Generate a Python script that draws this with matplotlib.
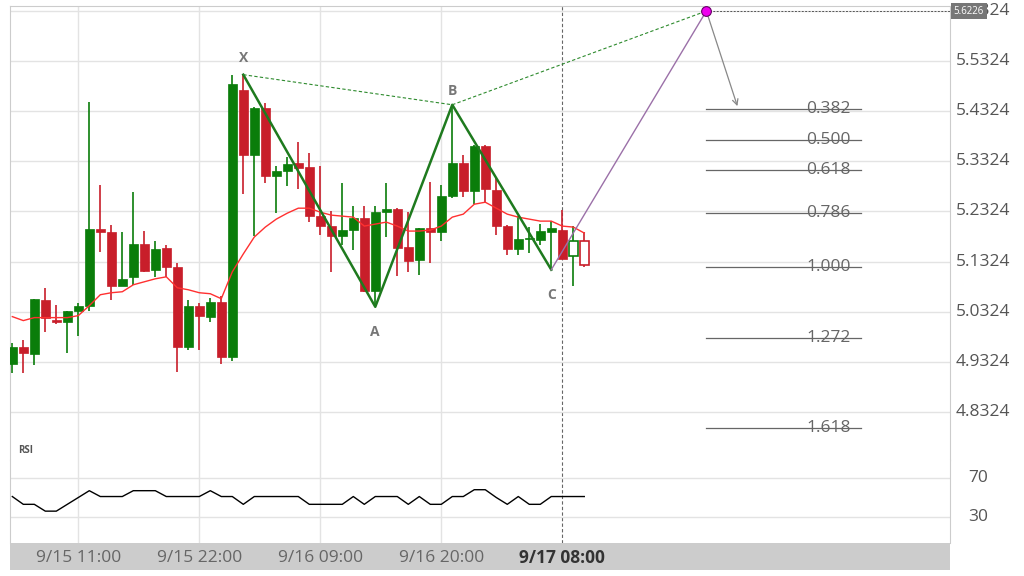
import matplotlib
matplotlib.use("Agg")
import matplotlib.pyplot as plt
import numpy as np

plt.rcParams['font.family'] = ['Open Sans', 'DejaVu Sans']

opens = [4.927,4.961,4.947,5.056,5.016,5.011,5.034,5.044,5.197,5.191,5.084,5.102,5.167,5.116,5.159,5.122,4.961,5.044,5.022,5.052,
         4.941,5.475,5.344,5.439,5.302,5.312,5.328,5.320,5.223,5.203,5.183,5.195,5.219,5.074,5.231,5.237,5.161,5.136,5.199,5.191,
         5.264,5.328,5.274,5.363,5.276,5.203,5.157,5.177,5.175,5.191,5.195,5.143,5.173]
closes = [4.961,4.949,5.058,5.020,5.011,5.034,5.044,5.197,5.191,5.084,5.098,5.167,5.114,5.157,5.122,4.961,5.044,5.024,5.052,4.941,
          5.487,5.344,5.439,5.302,5.312,5.326,5.318,5.223,5.203,5.183,5.195,5.219,5.074,5.231,5.237,5.159,5.134,5.199,5.191,5.264,
          5.328,5.274,5.363,5.278,5.203,5.157,5.177,5.177,5.193,5.199,5.137,5.173,5.126]
highs = [4.970,4.975,5.058,5.080,5.046,5.034,5.050,5.451,5.284,5.205,5.191,5.272,5.193,5.173,5.165,5.130,5.056,5.050,5.060,5.064,
         5.505,5.505,5.440,5.449,5.322,5.340,5.370,5.348,5.322,5.233,5.288,5.243,5.243,5.243,5.288,5.239,5.231,5.200,5.290,5.284,
         5.445,5.344,5.365,5.365,5.300,5.205,5.223,5.201,5.207,5.213,5.235,5.203,5.191]
lows = [4.910,4.911,4.925,4.992,5.007,4.949,4.983,5.034,5.151,5.056,5.084,5.086,5.112,5.102,5.102,4.913,4.955,4.955,5.011,4.927,
        4.933,5.268,5.183,5.288,5.229,5.282,5.278,5.211,5.185,5.112,5.165,5.155,5.072,5.042,5.181,5.104,5.112,5.106,5.130,5.173,
        5.260,5.262,5.248,5.250,5.185,5.145,5.145,5.150,5.165,5.118,5.137,5.084,5.122]
hollow = [51, 52]

ma_y = [318,322,319,319,319,319,317,307,296,294,293,286,283,280,278,289,291,294,295,300,273,255,238,228,220,214,209,
        209,213,216,217,218,227,225,223,227,232,232,231,227,218,215,205,203,209,215,218,220,222,222,227,228,234]
ma = [5.5324 - (y - 61) / 504 for y in ma_y]

rsi = [51,43,43,36,36,43,50,57,51,51,51,57,57,57,51,51,51,51,57,51,51,43,51,51,51,51,51,43,43,43,43,51,43,51,51,51,
       43,51,43,43,51,51,58,58,50,43,51,43,43,51,51,51,51]

pattern_idx = [21, 33, 40, 49]
pattern_val = [5.505, 5.042, 5.445, 5.116]
pattern_lbl = ['X', 'A', 'B', 'C']
d_idx, d_val = 63.1, 5.632
d_label = '5.6226'
arrow_to = (66.0, 5.437)

fib_lbl = ['0.382', '0.500', '0.618', '0.786', '1.000', '1.272', '1.618']
fib_val = [5.437, 5.375, 5.314, 5.229, 5.121, 4.979, 4.800]

xtick_idx = [6, 17, 28, 39, 50]
xtick_lbl = ['9/15 11:00', '9/15 22:00', '9/16 09:00', '9/16 20:00', '9/17 08:00']
ytick_vals = [4.8324, 4.9324, 5.0324, 5.1324, 5.2324, 5.3324, 5.4324, 5.5324, 5.6324]

W, H = 1024, 576
fig = plt.figure(figsize=(10.24, 5.76), dpi=100)
def rect(x0, y0, x1, y1):
    return [x0 / W, 1 - y1 / H, (x1 - x0) / W, (y1 - y0) / H]

xl = (-0.21, 85.25)
ax = fig.add_axes(rect(10, 6, 950, 460))
ar = fig.add_axes(rect(10, 460, 950, 543))
ab = fig.add_axes(rect(10, 543, 950, 570))
grid_c = '#e3e3e3'
for a in (ax, ar):
    a.set_xlim(*xl)
    a.set_xticks([])
    for s in a.spines.values():
        s.set_visible(False)
    for xi in xtick_idx[:-1]:
        a.axvline(xi, color=grid_c, lw=1, zorder=0)
    a.axvline(xtick_idx[-1], color='#666666', lw=0.8, ls=(0, (3, 2)), zorder=0)
for sp in ('right', 'top', 'left'):
    ax.spines[sp].set_visible(True); ax.spines[sp].set_color('#cccccc')
for sp in ('right', 'left'):
    ar.spines[sp].set_visible(True); ar.spines[sp].set_color('#cccccc')

ax.set_ylim(4.7365, 5.6420)
ax.set_yticks([])
for v in ytick_vals:
    ax.axhline(v, color=grid_c, lw=1, zorder=0)
    ax.text(1.006, v, f'{v:.4f}', transform=ax.get_yaxis_transform(), va='center', ha='left',
            fontsize=12.5, color='#555555')
ax.text(1.004, d_val, d_label, transform=ax.get_yaxis_transform(), va='center', ha='left',
        fontsize=7, color='white', zorder=10, clip_on=False,
        bbox=dict(boxstyle='square,pad=0.3', fc='#777777', ec='none'))
ax.axhline(d_val, xmin=(d_idx - xl[0]) / (xl[1] - xl[0]), color='#555555', lw=0.7, ls=(0, (2, 1.5)))

green, red = '#0a7d0a', '#c81e2a'
bw = 0.8
for i in range(len(opens)):
    o, c = opens[i], closes[i]
    col = green if c >= o else red
    ax.vlines(i, lows[i], highs[i], color=col, lw=1.2, zorder=2)
    lo, hi = min(o, c), max(o, c)
    if i in hollow:
        ax.add_patch(plt.Rectangle((i - bw / 2, lo), bw, max(hi - lo, 0.002), fc='white', ec=col, lw=1.2, zorder=3))
    else:
        ax.add_patch(plt.Rectangle((i - bw / 2, lo), bw, max(hi - lo, 0.002), fc=col, ec=col, lw=0.5, zorder=3))

ax.plot(range(len(ma)), ma, color='#ff3030', lw=1, zorder=4)

ax.plot(pattern_idx, pattern_val, color='#1e7a1e', lw=1.8, zorder=5)
ax.plot([pattern_idx[0], pattern_idx[2], d_idx], [pattern_val[0], pattern_val[2], d_val],
        color='#2e8b2e', lw=0.8, ls=(0, (3, 2)), zorder=5)
ax.plot([pattern_idx[3], d_idx], [pattern_val[3], d_val], color='#9b70a8', lw=1, zorder=5)
ax.annotate('', xy=arrow_to, xytext=(d_idx, d_val),
            arrowprops=dict(arrowstyle='->', color='#888888', lw=0.9), zorder=5)
ax.plot([d_idx], [d_val], 'o', ms=7, mfc='#ee00ee', mec='#660066', mew=0.8, zorder=6)
offs = [12, -18, 10, -18]
for xi, v, l, o in zip(pattern_idx, pattern_val, pattern_lbl, offs):
    ax.annotate(l, (xi, v), xytext=(0, o), textcoords='offset points', ha='center', va='center',
                fontsize=10, fontweight='bold', color='#777777')

for l, v in zip(fib_lbl, fib_val):
    ax.plot([d_idx, 77.2], [v, v], color='#666666', lw=0.9, zorder=5)
    ax.text(74.2, v, l, ha='center', va='center', fontsize=12.5, color='#666666', zorder=6)

ax.text(0.009, 0.022, 'RSI', transform=ax.transAxes, fontsize=7, color='#555555',
        fontweight='bold', va='center')

ar.set_ylim(3.3, 88.5)
ar.set_yticks([])
for v in (30, 70):
    ar.axhline(v, color=grid_c, lw=1, zorder=0)
    ar.text(1.03, v, str(v), transform=ar.get_yaxis_transform(), va='center', ha='center',
            fontsize=12.5, color='#555555')
ar.plot(range(len(rsi)), rsi, color='black', lw=1)

ab.set_xlim(*xl)
ab.set_facecolor('#cccccc')
ab.set_xticks([]); ab.set_yticks([])
for s in ab.spines.values():
    s.set_visible(False)
for xi, l in zip(xtick_idx, xtick_lbl):
    bold = l == xtick_lbl[-1]
    ab.text(xi, 0.45, l, ha='center', va='center', fontsize=12.5, color='#333333' if bold else '#666666',
            fontweight='bold' if bold else 'normal', transform=ab.get_xaxis_transform(),
            fontstretch='condensed' if bold else 'normal')

fig.savefig('out.png', dpi=100)
